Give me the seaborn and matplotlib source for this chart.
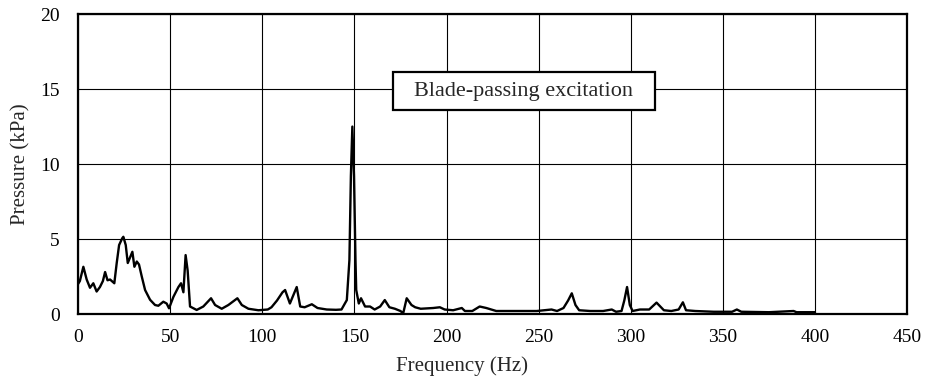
import numpy as np
import pandas as pd
import seaborn as sns
import matplotlib.pyplot as plt
from matplotlib.patches import Rectangle

# spectrum
freq = [0, 1, 2.9, 4.7, 6.5, 8.3, 10.1, 11.9, 13.5, 14.7, 16, 17.4, 19.7, 21,
        22.3, 24, 24.6, 25.9, 27, 28.3, 29.5, 30.6, 31.9, 33.1, 34.6, 36.4,
        39.1, 41.8, 43.6, 46.3, 48.1, 49.4, 51.8, 54.5, 55.9, 57.2, 58.4, 59.5,
        60.8, 64.4, 68, 72.2, 74.4, 78, 81.6, 86.5, 88.9, 92.5, 97.9, 103, 105,
        108, 111, 112.4, 115, 117, 118.7, 120.6, 123, 126.9, 130, 135, 140, 143,
        145.9, 147.3, 148.1, 148.9, 149.8, 150.6, 151, 152.4, 153.6, 155.8,
        158.5, 161, 164, 166.5, 169, 172, 175, 176.5, 178.4, 181, 183, 186,
        192.8, 196.4, 199, 203.6, 208.3, 210, 214, 218, 221.6, 227, 240, 249,
        257, 260, 263.5, 266, 268, 270, 272, 278, 285, 289.7, 292, 295, 296.5,
        298, 299.5, 301, 305, 310, 314, 318, 322, 326, 328.3, 330, 335, 345,
        355, 357.6, 360, 375, 388.4, 390, 400]
pressure = [2.0, 2.2, 3.15, 2.3, 1.75, 2.05, 1.5, 1.8, 2.2, 2.8, 2.25, 2.3, 2.05, 3.4,
            4.6, 5.05, 5.15, 4.6, 3.4, 3.8, 4.15, 3.15, 3.5, 3.3, 2.5, 1.6,
            0.95, 0.6, 0.55, 0.82, 0.7, 0.38, 1.15, 1.8, 2.05, 1.45, 3.93, 2.9,
            0.5, 0.27, 0.5, 1.05, 0.6, 0.35, 0.6, 1.05, 0.6, 0.35, 0.25, 0.3, 0.45,
            0.9, 1.45, 1.6, 0.7, 1.3, 1.8, 0.5, 0.45, 0.65, 0.4, 0.3, 0.28, 0.3,
            0.93, 3.6, 9.2, 12.5, 9.2, 3.6, 1.6, 0.7, 1.05, 0.5,
            0.5, 0.3, 0.5, 0.93, 0.45, 0.35, 0.2, 0.05, 1.05, 0.6, 0.45, 0.35,
            0.4, 0.45, 0.3, 0.25, 0.4, 0.2, 0.2, 0.5, 0.4, 0.2, 0.2, 0.2,
            0.3, 0.2, 0.4, 0.9, 1.38, 0.6, 0.25, 0.2, 0.2, 0.3, 0.15, 0.2, 0.9,
            1.8, 0.6, 0.2, 0.3, 0.3, 0.76, 0.25, 0.2, 0.3, 0.78, 0.25, 0.2, 0.15,
            0.15, 0.3, 0.15, 0.12, 0.2, 0.12, 0.12]
annotation = "Blade-passing excitation"

df = pd.DataFrame({'freq': freq, 'pressure': pressure})

sns.set_style('white')
plt.rcParams['font.family'] = ['Liberation Serif', 'DejaVu Serif']

fig = plt.figure(figsize=(9.4, 3.82), dpi=100)
ax = fig.add_axes([0.083, 0.178, 0.882, 0.785])

sns.lineplot(data=df, x='freq', y='pressure', color='black', lw=1.7, ax=ax)

ax.set_xlim(0, 450)
ax.set_ylim(0, 20)
ax.set_xticks(np.arange(0, 451, 50))
ax.set_yticks(np.arange(0, 21, 5))
ax.grid(True, color='black', lw=0.8)
ax.set_axisbelow(True)
for s in ax.spines.values():
    s.set_color('black')
    s.set_linewidth(1.6)
ax.tick_params(length=0, labelsize=14, colors='black')
ax.tick_params(axis='x', pad=11)
ax.tick_params(axis='y', pad=13)
ax.set_xlabel('Frequency (Hz)', fontsize=15)
ax.set_ylabel('Pressure (kPa)', fontsize=15)
ax.xaxis.set_label_coords(0.463, -0.14)
ax.yaxis.set_label_coords(-0.057, 0.5)

ax.add_patch(Rectangle((171, 13.6), 142, 2.53, facecolor='white',
                       edgecolor='black', lw=1.6, zorder=3))
ax.text(242, 14.87, annotation, ha='center', va='center', fontsize=16, zorder=4)

fig.savefig('out.png', dpi=100)
